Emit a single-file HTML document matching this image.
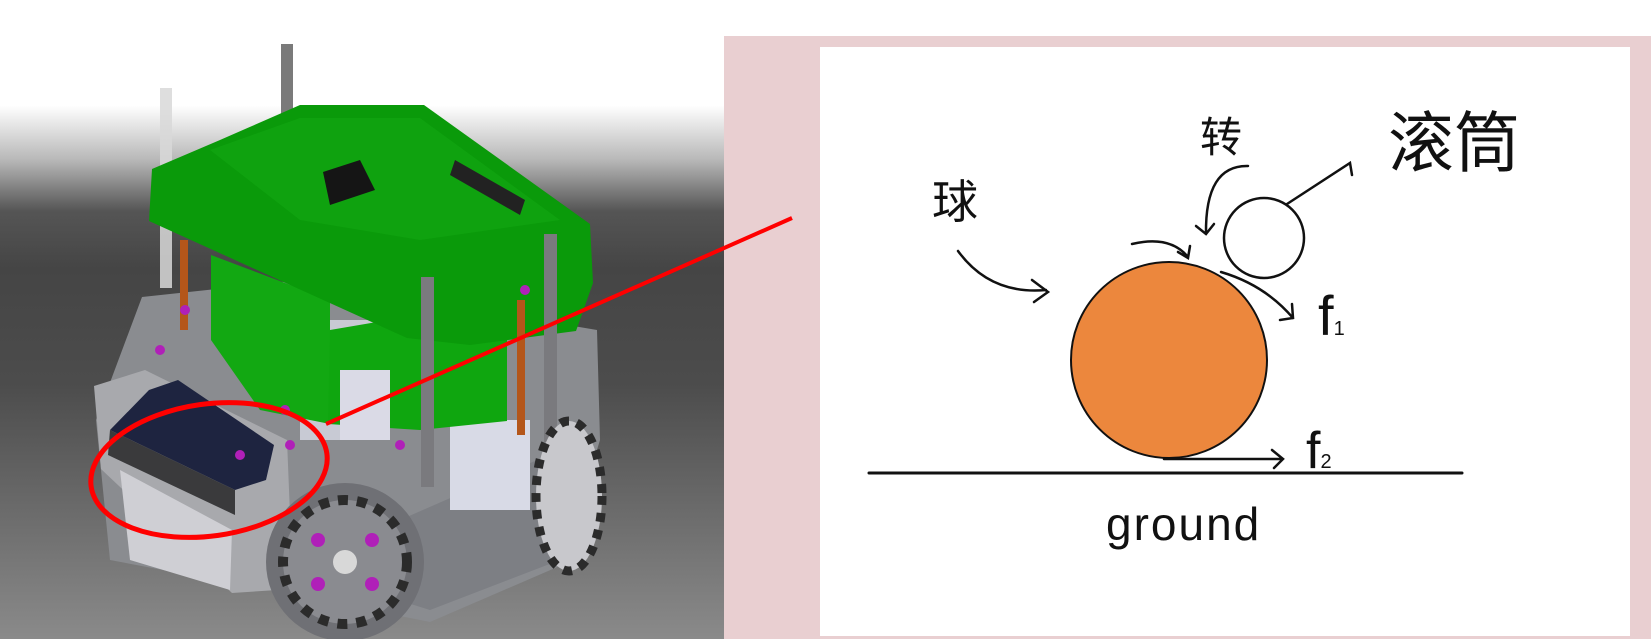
<!DOCTYPE html>
<html><head><meta charset="utf-8">
<style>
html,body{margin:0;padding:0;background:#fff;}
svg{display:block;}
.hand{font-family:"Liberation Sans","Noto Sans CJK SC",sans-serif;fill:#111;}
</style></head>
<body>
<svg width="1651" height="639" viewBox="0 0 1651 639" xmlns="http://www.w3.org/2000/svg">
<defs>
<linearGradient id="bg" x1="0" y1="0" x2="0" y2="1">
<stop offset="0" stop-color="#ffffff"/>
<stop offset="0.165" stop-color="#ffffff"/>
<stop offset="0.25" stop-color="#b8b8b8"/>
<stop offset="0.33" stop-color="#555"/>
<stop offset="0.42" stop-color="#454545"/>
<stop offset="0.6" stop-color="#4c4c4c"/>
<stop offset="1" stop-color="#8a8a8a"/>
</linearGradient>
</defs>
<g>
<rect x="0" y="0" width="724" height="639" fill="url(#bg)"/>
<rect x="160" y="88" width="12" height="200" fill="#d8d8d8" opacity="0.85"/>
<rect x="281" y="44" width="12" height="75" fill="#7a7a7a"/>
<polygon points="142,297 300,280 597,330 600,440 562,565 430,622 270,590 110,560 96,420" fill="#8a8c90"/>
<polygon points="270,560 430,610 560,560 600,470 560,450 400,520" fill="#7d7f84"/>
<rect x="300" y="320" width="80" height="120" fill="#c8cad4"/>
<rect x="450" y="420" width="80" height="90" fill="#d8dae6"/>
<polygon points="211,255 330,300 330,424 260,410 211,340" fill="#12a812"/>
<polygon points="330,330 507,300 507,421 420,430 328,424" fill="#0fa60f"/>
<rect x="340" y="370" width="50" height="70" fill="#dadae6"/>
<polygon points="152,169 220,140 300,105 424,105 590,224 593,283 576,331 470,345 407,338 149,221" fill="#0a9a0a"/>
<polygon points="210,150 300,118 420,118 560,220 420,240 300,220" fill="#12a812" opacity="0.6"/>
<polygon points="323,172 360,160 375,190 330,205" fill="#151515"/>
<polygon points="455,160 525,200 520,215 450,175" fill="#222"/>
<rect x="180" y="240" width="8" height="90" fill="#b4561a"/>
<rect x="517" y="300" width="8" height="135" fill="#b4561a"/>
<rect x="421" y="277" width="13" height="210" fill="#7a7a7e"/>
<rect x="544" y="234" width="13" height="208" fill="#7a7a7e"/>
<polygon points="94,386 145,370 287,440 293,589 232,593 101,469" fill="#a8a9ad"/>
<polygon points="120,470 232,530 230,590 130,560" fill="#cfcfd4"/>
<polygon points="149,390 178,380 274,445 266,480 235,490 110,430" fill="#1e2440"/>
<polygon points="110,430 235,490 235,515 108,455" fill="#3a3a3c"/>
<circle cx="345" cy="562" r="79" fill="#6f7075"/>
<circle cx="345" cy="562" r="62" fill="#8a8b90" stroke="#2b2b2b" stroke-width="10" stroke-dasharray="10 9"/>
<circle cx="345" cy="562" r="12" fill="#d8d8d8"/>
<g fill="#b020b8">
<circle cx="318" cy="540" r="7"/><circle cx="372" cy="540" r="7"/><circle cx="318" cy="584" r="7"/><circle cx="372" cy="584" r="7"/>
<circle cx="575" cy="460" r="6"/><circle cx="580" cy="500" r="6"/><circle cx="560" cy="480" r="6"/>
<circle cx="185" cy="310" r="5"/><circle cx="160" cy="350" r="5"/><circle cx="290" cy="445" r="5"/><circle cx="400" cy="445" r="5"/><circle cx="525" cy="290" r="5"/><circle cx="240" cy="455" r="5"/><circle cx="285" cy="410" r="5"/>
</g>
<ellipse cx="569" cy="496" rx="33" ry="75" fill="#c8c8cc" stroke="#2b2b2b" stroke-width="9" stroke-dasharray="9 8"/>
<ellipse cx="209" cy="470" rx="119" ry="66" transform="rotate(-8 209 470)" fill="none" stroke="#ff0000" stroke-width="5"/>
</g>
<rect x="724" y="36" width="927" height="603" fill="#e9cfd1"/>
<rect x="820" y="47" width="810" height="589" fill="#ffffff"/>
<line x1="326" y1="424" x2="792" y2="218" stroke="#ff0000" stroke-width="4"/>
<g fill="none" stroke="#111" stroke-width="2.5" stroke-linecap="round">
<line x1="869" y1="473" x2="1462" y2="473" stroke-width="3"/>
<ellipse cx="1169" cy="360" rx="98" ry="98" fill="#ec873d" stroke="#111" stroke-width="2"/>
<circle cx="1264" cy="238" r="40"/>
<path d="M958 251 Q990 295 1046 290 M1032 280 L1048 292 L1034 302"/>
<path d="M1132 244 Q1170 235 1188 257 M1178 252 L1188 258 L1190 246"/>
<path d="M1248 166 Q1205 165 1206 234 M1196 226 L1206 234 L1214 224"/>
<path d="M1287 204 L1350 163 L1352 175"/>
<path d="M1221 272 Q1265 285 1293 318 M1280 320 L1293 318 L1292 304"/>
<path d="M1164 459 L1282 459 M1272 450 L1283 459 L1274 468"/>
</g>
<text x="932" y="218" class="hand" font-size="46">球</text>
<text x="1200" y="152" class="hand" font-size="42">转</text>
<text x="1388" y="166" class="hand" font-size="66">滚筒</text>
<text x="1318" y="335" class="hand" font-size="56">f<tspan font-size="20">1</tspan></text>
<text x="1306" y="468" class="hand" font-size="52">f<tspan font-size="20">2</tspan></text>
<text x="1106" y="540" class="hand" font-size="46" letter-spacing="2">ground</text>
</svg>
</body></html>
